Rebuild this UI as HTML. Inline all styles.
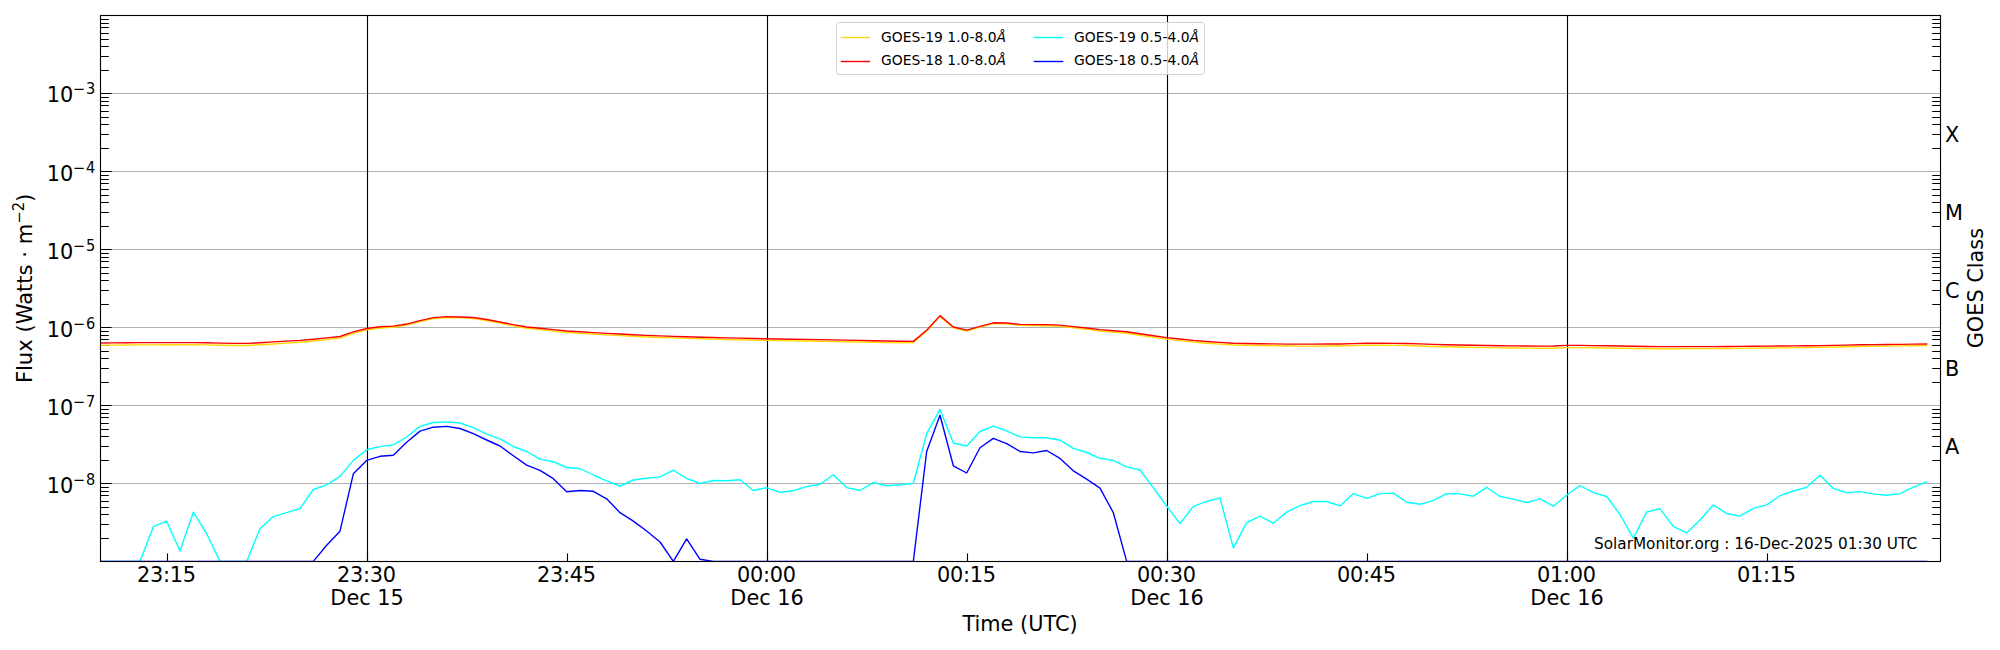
<!DOCTYPE html>
<html><head><meta charset="utf-8"><title>GOES X-ray flux</title>
<style>html,body{margin:0;padding:0;background:#fff;}svg{display:block;}</style>
</head><body>
<svg width="2000" height="650" viewBox="0 0 2000 650" font-family="'DejaVu Sans', 'Liberation Sans', sans-serif">
<rect x="0" y="0" width="2000" height="650" fill="#ffffff"/>
<defs><clipPath id="ax"><rect x="100.0" y="15.3" width="1840.0" height="546.0"/></clipPath></defs>
<line x1="100.5" y1="93.5" x2="1940.5" y2="93.5" stroke="#b0b0b0" stroke-width="1.11"/>
<line x1="100.5" y1="171.5" x2="1940.5" y2="171.5" stroke="#b0b0b0" stroke-width="1.11"/>
<line x1="100.5" y1="249.5" x2="1940.5" y2="249.5" stroke="#b0b0b0" stroke-width="1.11"/>
<line x1="100.5" y1="327.5" x2="1940.5" y2="327.5" stroke="#b0b0b0" stroke-width="1.11"/>
<line x1="100.5" y1="405.5" x2="1940.5" y2="405.5" stroke="#b0b0b0" stroke-width="1.11"/>
<line x1="100.5" y1="483.5" x2="1940.5" y2="483.5" stroke="#b0b0b0" stroke-width="1.11"/>
<line x1="367.5" y1="15.5" x2="367.5" y2="561.5" stroke="#000" stroke-width="1.11"/>
<line x1="767.5" y1="15.5" x2="767.5" y2="561.5" stroke="#000" stroke-width="1.11"/>
<line x1="1167.5" y1="15.5" x2="1167.5" y2="561.5" stroke="#000" stroke-width="1.11"/>
<line x1="1567.5" y1="15.5" x2="1567.5" y2="561.5" stroke="#000" stroke-width="1.11"/>
<path d="M100.5,561.5h11.1 M100.5,538.5h8.3 M100.5,524.5h8.3 M100.5,514.5h8.3 M100.5,507.5h8.3 M100.5,501.5h8.3 M100.5,495.5h8.3 M100.5,491.5h8.3 M100.5,487.5h8.3 M100.5,483.5h11.1 M100.5,460.5h8.3 M100.5,446.5h8.3 M100.5,436.5h8.3 M100.5,429.5h8.3 M100.5,423.5h8.3 M100.5,417.5h8.3 M100.5,413.5h8.3 M100.5,409.5h8.3 M100.5,405.5h11.1 M100.5,382.5h8.3 M100.5,368.5h8.3 M100.5,358.5h8.3 M100.5,351.5h8.3 M100.5,345.5h8.3 M100.5,339.5h8.3 M100.5,335.5h8.3 M100.5,331.5h8.3 M100.5,327.5h11.1 M100.5,304.5h8.3 M100.5,290.5h8.3 M100.5,280.5h8.3 M100.5,273.5h8.3 M100.5,267.5h8.3 M100.5,261.5h8.3 M100.5,257.5h8.3 M100.5,253.5h8.3 M100.5,249.5h11.1 M100.5,226.5h8.3 M100.5,212.5h8.3 M100.5,202.5h8.3 M100.5,195.5h8.3 M100.5,189.5h8.3 M100.5,183.5h8.3 M100.5,179.5h8.3 M100.5,175.5h8.3 M100.5,171.5h11.1 M100.5,148.5h8.3 M100.5,134.5h8.3 M100.5,124.5h8.3 M100.5,117.5h8.3 M100.5,111.5h8.3 M100.5,105.5h8.3 M100.5,101.5h8.3 M100.5,97.5h8.3 M100.5,93.5h11.1 M100.5,70.5h8.3 M100.5,56.5h8.3 M100.5,46.5h8.3 M100.5,39.5h8.3 M100.5,33.5h8.3 M100.5,27.5h8.3 M100.5,23.5h8.3 M100.5,19.5h8.3 M100.5,15.5h11.1 M167.5,561.5v-8 M367.5,561.5v-8 M567.5,561.5v-8 M767.5,561.5v-8 M967.5,561.5v-8 M1167.5,561.5v-8 M1367.5,561.5v-8 M1567.5,561.5v-8 M1767.5,561.5v-8" stroke="#000" stroke-width="1.11" fill="none"/>
<rect x="836.5" y="22.5" width="368.0" height="52.0" rx="2.8" ry="2.8" fill="#ffffff" fill-opacity="0.8" stroke="#cccccc" stroke-opacity="0.9" stroke-width="1.0"/>
<line x1="840.8" y1="37.5" x2="870.1" y2="37.5" stroke="#ffd700" stroke-width="1.39"/>
<text x="881.0" y="41.8" font-size="13.89">GOES-19 1.0-8.0<tspan font-style="italic">Å</tspan></text>
<line x1="840.8" y1="61.5" x2="870.1" y2="61.5" stroke="#ff0000" stroke-width="1.39"/>
<text x="881.0" y="64.6" font-size="13.89">GOES-18 1.0-8.0<tspan font-style="italic">Å</tspan></text>
<line x1="1033.7" y1="37.5" x2="1063.3" y2="37.5" stroke="#00ffff" stroke-width="1.39"/>
<text x="1074.0" y="41.8" font-size="13.89">GOES-19 0.5-4.0<tspan font-style="italic">Å</tspan></text>
<line x1="1033.7" y1="61.5" x2="1063.3" y2="61.5" stroke="#0000ff" stroke-width="1.39"/>
<text x="1074.0" y="64.6" font-size="13.89">GOES-18 0.5-4.0<tspan font-style="italic">Å</tspan></text>
<g clip-path="url(#ax)" fill="none" stroke-width="1.39" stroke-linejoin="round" stroke-linecap="square">
<path d="M100.00,345.30 L113.33,345.17 L126.67,345.04 L140.00,344.92 L153.33,344.82 L166.67,344.79 L180.00,344.77 L193.33,344.75 L206.67,344.89 L220.00,345.20 L233.33,345.49 L246.67,345.47 L260.00,344.78 L273.33,343.95 L286.67,343.17 L300.00,342.31 L313.33,341.00 L326.67,339.62 L340.00,338.07 L353.33,333.37 L366.67,329.82 L380.00,328.00 L393.33,327.21 L406.67,325.03 L420.00,321.53 L433.33,318.47 L446.67,317.47 L460.00,317.80 L473.33,318.45 L486.67,320.54 L500.00,323.09 L513.33,325.84 L526.67,328.22 L540.00,329.57 L553.33,331.09 L566.67,332.47 L580.00,333.30 L593.33,334.12 L606.67,334.88 L620.00,335.58 L633.33,336.29 L646.67,336.99 L660.00,337.49 L673.33,337.93 L686.67,338.36 L700.00,338.80 L713.33,339.12 L726.67,339.44 L740.00,339.76 L753.33,340.08 L766.67,340.39 L780.00,340.61 L793.33,340.82 L806.67,341.03 L820.00,341.27 L833.33,341.50 L846.67,341.74 L860.00,342.02 L873.33,342.31 L886.67,342.61 L900.00,342.90 L913.33,342.44 L926.67,331.03 L940.00,316.40 L953.33,327.81 L966.67,330.99 L980.00,327.20 L993.33,323.60 L1006.67,323.84 L1020.00,325.33 L1033.33,325.62 L1046.67,325.71 L1060.00,326.30 L1073.33,327.87 L1086.67,329.33 L1100.00,331.00 L1113.33,332.24 L1126.67,333.27 L1140.00,335.31 L1153.33,337.35 L1166.67,339.18 L1180.00,340.62 L1193.33,342.06 L1206.67,343.19 L1220.00,344.13 L1233.33,345.06 L1246.67,345.31 L1260.00,345.56 L1273.33,345.81 L1286.67,346.06 L1300.00,346.11 L1313.33,346.09 L1326.67,346.06 L1340.00,346.01 L1353.33,345.63 L1366.67,345.24 L1380.00,345.31 L1393.33,345.39 L1406.67,345.51 L1420.00,345.98 L1433.33,346.45 L1446.67,346.81 L1460.00,347.06 L1473.33,347.32 L1486.67,347.57 L1500.00,347.83 L1513.33,348.00 L1526.67,348.13 L1540.00,348.26 L1553.33,348.20 L1566.67,347.58 L1580.00,347.57 L1593.33,347.78 L1606.67,347.99 L1620.00,348.20 L1633.33,348.44 L1646.67,348.67 L1660.00,348.71 L1673.33,348.68 L1686.67,348.65 L1700.00,348.62 L1713.33,348.59 L1726.67,348.50 L1740.00,348.33 L1753.33,348.17 L1766.67,348.01 L1780.00,347.84 L1793.33,347.68 L1806.67,347.52 L1820.00,347.35 L1833.33,347.05 L1846.67,346.76 L1860.00,346.46 L1873.33,346.27 L1886.67,346.08 L1900.00,345.89 L1913.33,345.70 L1926.67,345.51" stroke="#ffd700"/>
<path d="M100.00,343.00 L113.33,342.89 L126.67,342.79 L140.00,342.68 L153.33,342.60 L166.67,342.60 L180.00,342.60 L193.33,342.60 L206.67,342.76 L220.00,343.08 L233.33,343.40 L246.67,343.40 L260.00,342.73 L273.33,341.92 L286.67,341.16 L300.00,340.40 L313.33,339.20 L326.67,337.93 L340.00,336.50 L353.33,331.91 L366.67,328.49 L380.00,326.80 L393.33,326.15 L406.67,324.05 L420.00,320.60 L433.33,317.58 L446.67,316.62 L460.00,317.00 L473.33,317.55 L486.67,319.55 L500.00,322.00 L513.33,324.66 L526.67,326.94 L540.00,328.20 L553.33,329.63 L566.67,330.97 L580.00,331.79 L593.33,332.60 L606.67,333.35 L620.00,334.04 L633.33,334.73 L646.67,335.43 L660.00,335.92 L673.33,336.35 L686.67,336.77 L700.00,337.20 L713.33,337.52 L726.67,337.84 L740.00,338.16 L753.33,338.48 L766.67,338.79 L780.00,339.01 L793.33,339.22 L806.67,339.43 L820.00,339.67 L833.33,339.90 L846.67,340.14 L860.00,340.42 L873.33,340.71 L886.67,341.01 L900.00,341.30 L913.33,341.37 L926.67,330.23 L940.00,315.60 L953.33,327.01 L966.67,330.19 L980.00,326.40 L993.33,322.80 L1006.67,323.00 L1020.00,324.40 L1033.33,324.60 L1046.67,324.60 L1060.00,325.10 L1073.33,326.60 L1086.67,328.00 L1100.00,329.60 L1113.33,330.80 L1126.67,331.80 L1140.00,333.80 L1153.33,335.80 L1166.67,337.60 L1180.00,339.00 L1193.33,340.40 L1206.67,341.50 L1220.00,342.40 L1233.33,343.30 L1246.67,343.51 L1260.00,343.72 L1273.33,343.93 L1286.67,344.15 L1300.00,344.16 L1313.33,344.11 L1326.67,344.05 L1340.00,344.00 L1353.33,343.60 L1366.67,343.21 L1380.00,343.27 L1393.33,343.34 L1406.67,343.46 L1420.00,343.91 L1433.33,344.37 L1446.67,344.72 L1460.00,344.97 L1473.33,345.22 L1486.67,345.46 L1500.00,345.71 L1513.33,345.87 L1526.67,345.99 L1540.00,346.11 L1553.33,346.04 L1566.67,345.42 L1580.00,345.40 L1593.33,345.60 L1606.67,345.80 L1620.00,346.00 L1633.33,346.27 L1646.67,346.53 L1660.00,346.60 L1673.33,346.60 L1686.67,346.60 L1700.00,346.60 L1713.33,346.60 L1726.67,346.53 L1740.00,346.40 L1753.33,346.27 L1766.67,346.13 L1780.00,346.00 L1793.33,345.87 L1806.67,345.73 L1820.00,345.60 L1833.33,345.33 L1846.67,345.07 L1860.00,344.80 L1873.33,344.64 L1886.67,344.48 L1900.00,344.33 L1913.33,344.17 L1926.67,344.01" stroke="#ff0000"/>
<path d="M100.00,561.40 L113.33,561.40 L126.67,561.40 L140.00,561.40 L153.33,526.70 L166.67,521.20 L180.00,551.00 L193.33,512.20 L206.67,533.70 L220.00,561.40 L233.33,561.40 L246.67,561.40 L260.00,528.80 L273.33,516.60 L286.67,512.60 L300.00,508.70 L313.33,489.50 L326.67,484.80 L340.00,476.40 L353.33,460.40 L366.67,449.70 L380.00,446.60 L393.33,444.90 L406.67,437.00 L420.00,426.40 L433.33,422.50 L446.67,421.90 L460.00,423.00 L473.33,427.70 L486.67,434.20 L500.00,438.90 L513.33,446.50 L526.67,451.50 L540.00,459.10 L553.33,461.70 L566.67,467.50 L580.00,468.50 L593.33,475.00 L606.67,480.80 L620.00,486.00 L633.33,480.00 L646.67,478.20 L660.00,476.90 L673.33,470.10 L686.67,478.50 L700.00,483.40 L713.33,480.50 L726.67,480.80 L740.00,479.70 L753.33,490.50 L766.67,487.60 L780.00,492.30 L793.33,490.70 L806.67,486.60 L820.00,484.20 L833.33,474.80 L846.67,487.60 L860.00,490.50 L873.33,482.60 L886.67,485.80 L900.00,484.70 L913.33,483.20 L926.67,433.70 L940.00,409.40 L953.33,443.00 L966.67,446.00 L980.00,431.50 L993.33,426.20 L1006.67,430.90 L1020.00,436.90 L1033.33,437.70 L1046.67,437.70 L1060.00,440.20 L1073.33,448.30 L1086.67,452.50 L1100.00,458.30 L1113.33,460.40 L1126.67,466.90 L1140.00,470.00 L1153.33,487.80 L1166.67,506.00 L1180.00,523.60 L1193.33,506.30 L1206.67,501.30 L1220.00,498.00 L1233.33,547.90 L1246.67,522.70 L1260.00,516.10 L1273.33,523.30 L1286.67,512.10 L1300.00,505.60 L1313.33,501.50 L1326.67,501.50 L1340.00,505.90 L1353.33,493.60 L1366.67,498.30 L1380.00,493.60 L1393.33,493.10 L1406.67,502.20 L1420.00,504.30 L1433.33,500.40 L1446.67,493.60 L1460.00,493.90 L1473.33,496.20 L1486.67,487.30 L1500.00,496.50 L1513.33,499.10 L1526.67,502.50 L1540.00,498.80 L1553.33,506.20 L1566.67,495.20 L1580.00,485.50 L1593.33,492.60 L1606.67,496.50 L1620.00,514.50 L1633.33,538.20 L1646.67,511.90 L1660.00,508.80 L1673.33,526.30 L1686.67,532.90 L1700.00,520.00 L1713.33,504.90 L1726.67,513.50 L1740.00,516.10 L1753.33,508.30 L1766.67,504.90 L1780.00,495.70 L1793.33,491.00 L1806.67,487.30 L1820.00,475.30 L1833.33,488.50 L1846.67,492.60 L1860.00,491.60 L1873.33,493.90 L1886.67,495.20 L1900.00,493.60 L1913.33,487.10 L1926.67,481.80" stroke="#00ffff"/>
<path d="M100.00,561.40 L113.33,561.40 L126.67,561.40 L140.00,561.40 L153.33,561.40 L166.67,561.40 L180.00,561.40 L193.33,561.40 L206.67,561.40 L220.00,561.40 L233.33,561.40 L246.67,561.40 L260.00,561.40 L273.33,561.40 L286.67,561.40 L300.00,561.40 L313.33,561.40 L326.67,545.20 L340.00,531.20 L353.33,473.80 L366.67,460.40 L380.00,456.30 L393.33,455.20 L406.67,442.20 L420.00,431.10 L433.33,427.20 L446.67,426.40 L460.00,428.50 L473.33,433.70 L486.67,440.00 L500.00,446.00 L513.33,455.70 L526.67,465.10 L540.00,470.30 L553.33,478.70 L566.67,491.80 L580.00,490.50 L593.33,491.30 L606.67,498.80 L620.00,512.70 L633.33,521.10 L646.67,531.00 L660.00,542.00 L673.33,561.40 L686.67,538.90 L700.00,559.30 L713.33,561.40 L726.67,561.40 L740.00,561.40 L753.33,561.40 L766.67,561.40 L780.00,561.40 L793.33,561.40 L806.67,561.40 L820.00,561.40 L833.33,561.40 L846.67,561.40 L860.00,561.40 L873.33,561.40 L886.67,561.40 L900.00,561.40 L913.33,561.40 L926.67,451.50 L940.00,415.30 L953.33,465.80 L966.67,473.00 L980.00,447.80 L993.33,438.40 L1006.67,443.60 L1020.00,451.50 L1033.33,452.90 L1046.67,450.50 L1060.00,458.40 L1073.33,470.80 L1086.67,479.20 L1100.00,488.10 L1113.33,512.70 L1126.67,561.40 L1140.00,561.40 L1153.33,561.40 L1166.67,561.40 L1180.00,561.40 L1193.33,561.40 L1206.67,561.40 L1220.00,561.40 L1233.33,561.40 L1246.67,561.40 L1260.00,561.40 L1273.33,561.40 L1286.67,561.40 L1300.00,561.40 L1313.33,561.40 L1326.67,561.40 L1340.00,561.40 L1353.33,561.40 L1366.67,561.40 L1380.00,561.40 L1393.33,561.40 L1406.67,561.40 L1420.00,561.40 L1433.33,561.40 L1446.67,561.40 L1460.00,561.40 L1473.33,561.40 L1486.67,561.40 L1500.00,561.40 L1513.33,561.40 L1526.67,561.40 L1540.00,561.40 L1553.33,561.40 L1566.67,561.40 L1580.00,561.40 L1593.33,561.40 L1606.67,561.40 L1620.00,561.40 L1633.33,561.40 L1646.67,561.40 L1660.00,561.40 L1673.33,561.40 L1686.67,561.40 L1700.00,561.40 L1713.33,561.40 L1726.67,561.40 L1740.00,561.40 L1753.33,561.40 L1766.67,561.40 L1780.00,561.40 L1793.33,561.40 L1806.67,561.40 L1820.00,561.40 L1833.33,561.40 L1846.67,561.40 L1860.00,561.40 L1873.33,561.40 L1886.67,561.40 L1900.00,561.40 L1913.33,561.40 L1926.67,561.40" stroke="#0000ff"/>
</g>
<path d="M1940.5,538.5h-8.3 M1940.5,524.5h-8.3 M1940.5,514.5h-8.3 M1940.5,507.5h-8.3 M1940.5,501.5h-8.3 M1940.5,495.5h-8.3 M1940.5,491.5h-8.3 M1940.5,487.5h-8.3 M1940.5,460.5h-8.3 M1940.5,446.5h-8.3 M1940.5,436.5h-8.3 M1940.5,429.5h-8.3 M1940.5,423.5h-8.3 M1940.5,417.5h-8.3 M1940.5,413.5h-8.3 M1940.5,409.5h-8.3 M1940.5,382.5h-8.3 M1940.5,368.5h-8.3 M1940.5,358.5h-8.3 M1940.5,351.5h-8.3 M1940.5,345.5h-8.3 M1940.5,339.5h-8.3 M1940.5,335.5h-8.3 M1940.5,331.5h-8.3 M1940.5,304.5h-8.3 M1940.5,290.5h-8.3 M1940.5,280.5h-8.3 M1940.5,273.5h-8.3 M1940.5,267.5h-8.3 M1940.5,261.5h-8.3 M1940.5,257.5h-8.3 M1940.5,253.5h-8.3 M1940.5,226.5h-8.3 M1940.5,212.5h-8.3 M1940.5,202.5h-8.3 M1940.5,195.5h-8.3 M1940.5,189.5h-8.3 M1940.5,183.5h-8.3 M1940.5,179.5h-8.3 M1940.5,175.5h-8.3 M1940.5,148.5h-8.3 M1940.5,134.5h-8.3 M1940.5,124.5h-8.3 M1940.5,117.5h-8.3 M1940.5,111.5h-8.3 M1940.5,105.5h-8.3 M1940.5,101.5h-8.3 M1940.5,97.5h-8.3 M1940.5,70.5h-8.3 M1940.5,56.5h-8.3 M1940.5,46.5h-8.3 M1940.5,39.5h-8.3 M1940.5,33.5h-8.3 M1940.5,27.5h-8.3 M1940.5,23.5h-8.3 M1940.5,19.5h-8.3" stroke="#000" stroke-width="1.11" fill="none"/>
<rect x="100.5" y="15.5" width="1840.0" height="546.0" fill="none" stroke="#000" stroke-width="1.11"/>
<text x="46.7" y="101.6" font-size="20.83">10</text>
<text x="72.75" y="93.6" font-size="14.58">−</text>
<text transform="translate(85.9,93.6) scale(1,1.14)" font-size="14.58">3</text>
<text x="46.7" y="180.6" font-size="20.83">10</text>
<text x="72.75" y="172.6" font-size="14.58">−</text>
<text transform="translate(85.9,172.6) scale(1,1.14)" font-size="14.58">4</text>
<text x="46.7" y="258.6" font-size="20.83">10</text>
<text x="72.75" y="250.60000000000002" font-size="14.58">−</text>
<text transform="translate(85.9,250.60000000000002) scale(1,1.14)" font-size="14.58">5</text>
<text x="46.7" y="336.6" font-size="20.83">10</text>
<text x="72.75" y="328.6" font-size="14.58">−</text>
<text transform="translate(85.9,328.6) scale(1,1.14)" font-size="14.58">6</text>
<text x="46.7" y="414.6" font-size="20.83">10</text>
<text x="72.75" y="406.6" font-size="14.58">−</text>
<text transform="translate(85.9,406.6) scale(1,1.14)" font-size="14.58">7</text>
<text x="46.7" y="492.6" font-size="20.83">10</text>
<text x="72.75" y="484.6" font-size="14.58">−</text>
<text transform="translate(85.9,484.6) scale(1,1.14)" font-size="14.58">8</text>
<text x="166.32" y="582.0" font-size="20.83" text-anchor="middle" letter-spacing="-0.28">23:15</text>
<text x="366.32" y="582.0" font-size="20.83" text-anchor="middle" letter-spacing="-0.28">23:30</text>
<text x="367.07" y="604.7" font-size="20.83" text-anchor="middle">Dec 15</text>
<text x="566.32" y="582.0" font-size="20.83" text-anchor="middle" letter-spacing="-0.28">23:45</text>
<text x="766.32" y="582.0" font-size="20.83" text-anchor="middle" letter-spacing="-0.28">00:00</text>
<text x="767.07" y="604.7" font-size="20.83" text-anchor="middle">Dec 16</text>
<text x="966.32" y="582.0" font-size="20.83" text-anchor="middle" letter-spacing="-0.28">00:15</text>
<text x="1166.32" y="582.0" font-size="20.83" text-anchor="middle" letter-spacing="-0.28">00:30</text>
<text x="1167.07" y="604.7" font-size="20.83" text-anchor="middle">Dec 16</text>
<text x="1366.32" y="582.0" font-size="20.83" text-anchor="middle" letter-spacing="-0.28">00:45</text>
<text x="1566.32" y="582.0" font-size="20.83" text-anchor="middle" letter-spacing="-0.28">01:00</text>
<text x="1567.07" y="604.7" font-size="20.83" text-anchor="middle">Dec 16</text>
<text x="1766.32" y="582.0" font-size="20.83" text-anchor="middle" letter-spacing="-0.28">01:15</text>
<text x="1020.0" y="630.9" font-size="20.83" text-anchor="middle">Time (UTC)</text>
<g transform="translate(31.6,288.4) rotate(-90) scale(1.013,1)">
<text x="-93.50" y="0" font-size="20.83">Flux (Watts · m</text>
<text x="63.90" y="-8" font-size="14.58">−</text>
<text transform="translate(76.10,-8) scale(1,1.14)" font-size="14.58">2</text>
<text x="85.40" y="0" font-size="20.83">)</text>
</g>
<text transform="translate(1982.6,288.1) rotate(-90)" font-size="20.83" text-anchor="middle">GOES Class</text>
<text x="1945.0" y="141.70" font-size="20.83">X</text>
<text x="1945.0" y="219.70" font-size="20.83">M</text>
<text x="1945.0" y="297.70" font-size="20.83">C</text>
<text x="1945.0" y="375.70" font-size="20.83">B</text>
<text x="1945.0" y="453.70" font-size="20.83">A</text>
<text x="1917.1" y="548.9" font-size="15.28" text-anchor="end">SolarMonitor.org : 16-Dec-2025 01:30 UTC</text>
</svg>
</body></html>
